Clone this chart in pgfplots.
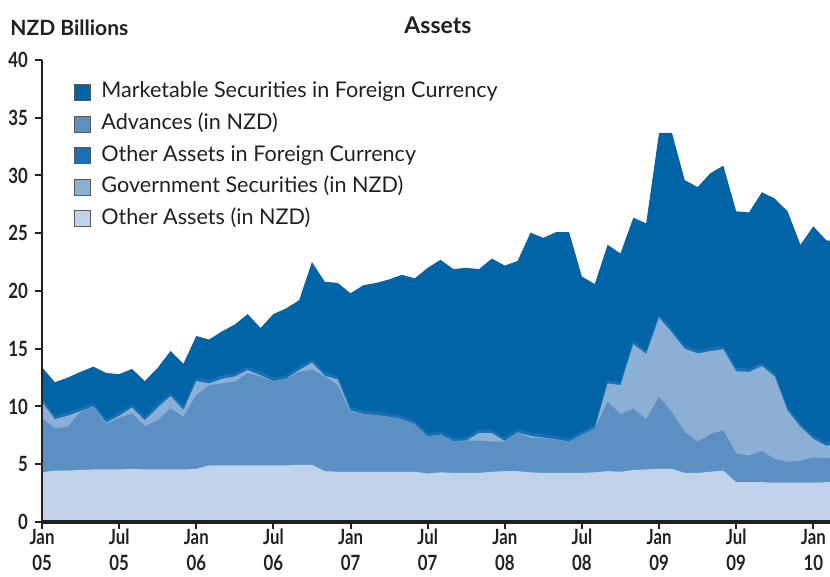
\documentclass[border=0pt]{standalone}
\usepackage{pgfplots}
\pgfplotsset{compat=1.18}
\usepackage{pgfplotstable}
\usepackage{fontspec}
\setmainfont{Lato}
\newfontfamily\condfont[FakeStretch=0.8]{Lato}
\definecolor{mkt}{HTML}{0064A6}
\definecolor{ofc}{HTML}{1B70B3}
\definecolor{adv}{HTML}{5C90C3}
\definecolor{gov}{HTML}{8CAFD5}
\definecolor{onzd}{HTML}{C0D3EA}
\definecolor{txt}{HTML}{231F20}

% cumulative tops of each layer (NZD billions), month index 0 = Jan 2005
% T = total (Marketable Securities top), F = Other Assets FC top,
% G = Government Securities top, A = Advances top, N = Other Assets NZD top
\pgfplotstableread{
m  T     F     G     A     N
0  13.4  10.7  10.4  9.0   4.3
1  12.1  9.2   8.9   8.1   4.45
2  12.5  9.5   9.2   8.25  4.45
3  13.0  9.9   9.6   9.55  4.5
4  13.45 10.3  10.0  9.95  4.55
5  12.9  8.9   8.6   8.5   4.55
6  12.8  9.5   9.2   9.0   4.55
7  13.25 10.2  9.9   9.4   4.6
8  12.2  9.1   8.8   8.3   4.55
9  13.35 10.2  9.9   8.8   4.55
10 14.8  11.2  10.9  9.85  4.55
11 13.7  10.0  9.7   9.1   4.55
12 16.1  12.5  12.2  11.0  4.6
13 15.8  12.3  12.0  11.85 4.9
14 16.5  12.7  12.4  12.0  4.9
15 17.1  12.9  12.6  12.15 4.9
16 18.0  13.45 13.15 12.9  4.9
17 16.8  13.0  12.7  12.6  4.9
18 18.0  12.5  12.2  12.15 4.9
19 18.5  12.7  12.4  12.35 4.9
20 19.2  13.45 13.15 13.0  4.95
21 22.5  14.1  13.8  13.2  4.95
22 20.8  12.95 12.65 12.6  4.4
23 20.7  12.65 12.35 11.85 4.35
24 19.8  9.95  9.65  9.55  4.35
25 20.5  9.65  9.35  9.35  4.35
26 20.7  9.55  9.25  9.25  4.35
27 21.0  9.4   9.1   9.1   4.35
28 21.4  9.2   8.9   8.9   4.35
29 21.1  8.75  8.45  8.45  4.35
30 22.0  7.7   7.4   7.4   4.2
31 22.7  7.85  7.55  7.55  4.3
32 21.9  7.3   7.0   7.0   4.25
33 22.0  7.35  7.05  7.05  4.25
34 21.9  8.0   7.7   7.05  4.25
35 22.8  8.0   7.7   6.95  4.35
36 22.2  7.3   7.0   6.95  4.4
37 22.6  8.05  7.75  7.7   4.4
38 25.05 7.75  7.45  7.3   4.3
39 24.6  7.6   7.3   7.25  4.25
40 25.1  7.45  7.15  7.1   4.25
41 25.1  7.25  6.95  6.95  4.25
42 21.25 7.85  7.55  7.55  4.25
43 20.6  8.4   8.1   8.1   4.3
44 24.0  12.3  12.0  10.4  4.4
45 23.25 12.15 11.85 9.35  4.35
46 26.35 15.7  15.4  9.8   4.5
47 25.85 14.85 14.55 8.9   4.55
48 33.7  18.0  17.7  10.85 4.6
49 33.7  16.7  16.4  9.5   4.6
50 29.6  15.3  15.0  7.8   4.25
51 29.0  14.9  14.6  6.95  4.25
52 30.2  15.1  14.8  7.6   4.35
53 30.85 15.25 14.95 7.95  4.45
54 26.9  13.35 13.05 5.95  3.45
55 26.8  13.3  13.0  5.75  3.45
56 28.55 13.8  13.5  6.15  3.45
57 28.0  12.9  12.6  5.45  3.4
58 26.9  9.95  9.65  5.2   3.4
59 24.0  8.55  8.25  5.3   3.4
60 25.6  7.5   7.2   5.6   3.4
61 24.4  6.9   6.6   5.5   3.45
62 24.2  7.1   6.8   5.7   3.5
}\data

\begin{document}
\begin{tikzpicture}
\begin{axis}[
  scale only axis, width=394pt, height=231pt,
  xmin=0, xmax=61.3, ymin=0, ymax=40,
  axis x line=bottom, axis y line=left,
  axis line style={-, line width=1.1pt, color=txt},
  x axis line style={line width=1.6pt},
  tick align=outside, major tick length=3.5pt,
  tick style={line width=1pt, color=txt},
  xtick={0,6,...,60},
  xticklabels={Jan\\05,Jul\\05,Jan\\06,Jul\\06,Jan\\07,Jul\\07,Jan\\08,Jul\\08,Jan\\09,Jul\\09,Jan\\10},
  xticklabel style={align=center, text=txt, inner sep=1pt, yshift=1pt, font=\condfont\bfseries\fontsize{10.5}{12.8}\selectfont},
  ytick={0,5,...,40},
  yticklabel style={text=txt, font=\condfont\bfseries\fontsize{10.5}{12}\selectfont},
  /pgf/number format/assume math mode=true,
  axis on top,
  legend style={at={(rel axis cs:0,1)}, anchor=north west, xshift=13pt, yshift=-8pt,
     draw=none, fill=none, font=\fontsize{10.8}{12}\selectfont, text=txt,
     row sep=3.6pt, nodes={inner sep=1pt, text height=7.8pt, text depth=2.4pt},
     /tikz/every odd column/.append style={column sep=4pt}},
  legend cell align=left,
  legend image code/.code={\draw[#1, draw=black!65, line width=0.5pt] (0pt,-4pt) rectangle (8pt,4pt);},
]
\addlegendimage{fill=mkt}\addlegendentry{Marketable Securities in Foreign Currency}
\addlegendimage{fill=adv}\addlegendentry{Advances (in NZD)}
\addlegendimage{fill=ofc}\addlegendentry{Other Assets in Foreign Currency}
\addlegendimage{fill=gov}\addlegendentry{Government Securities (in NZD)}
\addlegendimage{fill=onzd}\addlegendentry{Other Assets (in NZD)}

\addplot[forget plot, fill=mkt, draw=none] table[x=m, y=T] {\data} \closedcycle;
\addplot[forget plot, fill=ofc, draw=none] table[x=m, y=F] {\data} \closedcycle;
\addplot[forget plot, fill=gov, draw=none] table[x=m, y=G] {\data} \closedcycle;
\addplot[forget plot, fill=adv, draw=none] table[x=m, y=A] {\data} \closedcycle;
\addplot[forget plot, fill=onzd, draw=none] table[x=m, y=N] {\data} \closedcycle;

\coordinate (bl) at (rel axis cs:0,0);
\coordinate (tr) at (rel axis cs:1,1);
\coordinate (tl) at (rel axis cs:0,1);
\coordinate (tc) at (rel axis cs:0.5,1);
\end{axis}
\node[font=\bfseries\fontsize{11.5}{13}\selectfont, text=txt] at ([xshift=1pt, yshift=17.5pt]tc) {Assets};
\node[anchor=west, inner sep=0pt, font=\fontsize{10.5}{12}\selectfont, text=txt] at ([xshift=-16pt, yshift=16pt]tl) {\textbf{NZD Billions}};
\pgfresetboundingbox
\path[use as bounding box] ([xshift=-21pt, yshift=-27.5pt]bl) rectangle ([yshift=30pt]tr);
\end{tikzpicture}
\end{document}
